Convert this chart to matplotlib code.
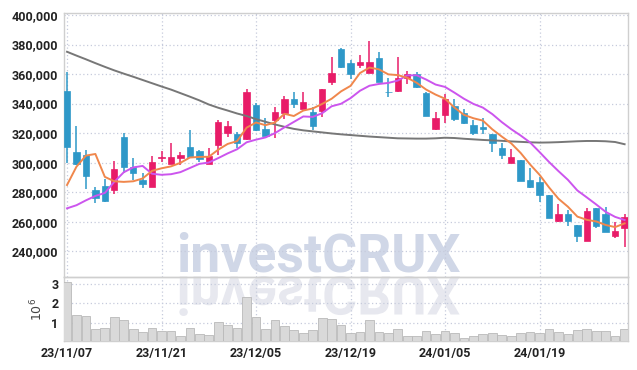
import matplotlib
matplotlib.use('Agg')
import matplotlib.pyplot as plt
import numpy as np
from matplotlib.ticker import FuncFormatter
from matplotlib.textpath import TextPath
from matplotlib.patches import PathPatch
from matplotlib.font_manager import FontProperties
from matplotlib.transforms import Affine2D

# daily candles (KRW)
opens = [348800, 307200, 305000, 281500, 284200, 281300, 317400, 297100, 288300, 283800,
         303300, 299300, 303400, 310900, 307900, 299300, 312200, 320300, 319400, 316000,
         338800, 322800, 329100, 333900, 343100, 336600, 334100, 335200, 354900, 376800,
         367300, 366100, 361000, 370900, 348100, 348500, 357100, 359800, 347400, 322600,
         332100, 338400, 333900, 325500, 324400, 319400, 310000, 300000, 301800, 288300,
         286700, 278100, 260700, 265300, 257800, 247200, 269100, 265300, 250400, 256000]
highs = [361400, 324800, 308600, 283800, 288700, 301400, 319900, 303000, 292800, 304800,
         307700, 313100, 307500, 322100, 308500, 309700, 328900, 328000, 321000, 349700,
         340600, 330500, 337900, 345400, 347600, 347600, 337900, 350000, 371800, 377400,
         369500, 372700, 382400, 375000, 357100, 371300, 362100, 361600, 347600, 334100,
         346300, 342900, 336400, 328900, 330000, 319500, 313100, 309000, 302000, 296200,
         290500, 278300, 271800, 268000, 258000, 269100, 269300, 270200, 260000, 265000]
lows = [299600, 298500, 282000, 273000, 273500, 278800, 292800, 288300, 282600, 283500,
        300500, 299000, 298200, 303000, 300500, 299200, 305200, 317600, 309700, 315400,
        321700, 318300, 316500, 329400, 336800, 336100, 322100, 331200, 352600, 363900,
        356400, 363900, 360900, 354600, 344300, 348100, 353300, 350800, 331400, 322100,
        326700, 328200, 326200, 318800, 319400, 307500, 302300, 299800, 287600, 282600,
        273600, 262600, 259600, 257100, 246100, 247000, 255600, 253100, 249200, 243100]
closes = [310900, 299300, 291200, 276300, 274300, 295700, 297300, 293200, 285800, 300500,
          304100, 303800, 305300, 303800, 302500, 304800, 327600, 324800, 313600, 347900,
          322400, 318300, 334100, 343100, 340000, 341100, 325100, 349900, 360700, 364600,
          359800, 368400, 368400, 354600, 347700, 357100, 359800, 351200, 331600, 330500,
          343100, 329800, 327100, 320100, 322600, 313600, 305200, 303800, 287800, 283800,
          278400, 262800, 265300, 260700, 250600, 267100, 257100, 253300, 253700, 263200]

# moving averages as drawn
ma5 = [284900, 297300, 304800, 305900, 290400, 287400, 287000, 287400, 289300, 294500,
       296200, 297500, 299900, 303500, 303900, 304000, 308800, 312700, 314600, 323700,
       327200, 325400, 327200, 333100, 331600, 335300, 336700, 339800, 343300, 348300,
       352000, 360700, 364400, 363200, 359800, 359300, 357500, 354100, 349500, 346100,
       343300, 337300, 332400, 330100, 328500, 322600, 317700, 313100, 306600, 298800,
       291800, 283300, 275600, 270200, 263500, 261300, 260200, 257800, 256400, 258900]
ma10 = [269100, 271200, 274500, 277500, 279500, 287000, 293500, 296800, 297800, 292500,
        291800, 292200, 293600, 296400, 299200, 300100, 303100, 306300, 309100, 313800,
        315600, 317100, 320000, 323900, 327600, 331300, 331000, 333500, 338200, 339900,
        343700, 348700, 352100, 353300, 354000, 355600, 359100, 359200, 356300, 352900,
        351300, 347400, 343300, 339800, 337300, 332900, 327500, 322700, 318400, 313700,
        307200, 300500, 294300, 288400, 281200, 276500, 271700, 266700, 263300, 261200]
ma60 = [375100, 372500, 370000, 367400, 364900, 362500, 360300, 358200, 356000, 353800,
        351600, 349500, 347100, 344700, 342200, 339400, 337200, 335300, 333300, 331600,
        329500, 327700, 325900, 324300, 322900, 321900, 321200, 320500, 319800, 319200,
        318700, 318200, 317700, 317300, 316900, 316500, 316400, 316300, 316300, 316500,
        316900, 316700, 316200, 315800, 315400, 315100, 314800, 314400, 314100, 313800,
        313600, 313700, 313900, 314200, 314500, 314700, 314700, 314500, 314000, 312500]

# volume in millions of shares
volume = [3.08, 1.40, 1.35, 0.69, 0.74, 1.30, 1.15, 0.69, 0.54, 0.74,
          0.59, 0.59, 0.34, 0.74, 0.44, 0.39, 1.05, 0.90, 0.74, 2.32,
          1.30, 0.69, 1.15, 0.85, 0.64, 0.49, 0.64, 1.25, 1.20, 0.90,
          0.49, 0.54, 1.15, 0.54, 0.49, 0.69, 0.34, 0.34, 0.59, 0.44,
          0.59, 0.49, 0.24, 0.34, 0.44, 0.49, 0.39, 0.34, 0.49, 0.54,
          0.49, 0.69, 0.54, 0.44, 0.64, 0.69, 0.59, 0.59, 0.34, 0.69]

tick_labels = ['23/11/07', '23/11/21', '23/12/05', '23/12/19', '24/01/05', '24/01/19']

RED = '#e81c68'
BLUE = '#2e98c8'
GRID = '#c6cbdc'
SPINE = '#cfcfcf'
TXT = '#222222'
plt.rcParams['font.family'] = ['Roboto', 'DejaVu Sans']

o = np.array(opens)
h = np.array(highs)
l = np.array(lows)
c = np.array(closes)
x = np.arange(len(c))
cols = np.where(c >= o, RED, BLUE)

fig = plt.figure(figsize=(6.37, 3.70), dpi=100)
ax = fig.add_axes([64/637, 1-277/370, 564/637, 264/370])
axv = fig.add_axes([64/637, 1-341/370, 564/637, 64/370], sharex=ax)
for a in (ax, axv):
    a.set_facecolor('none')
    for s in a.spines.values():
        s.set_color(SPINE)
        s.set_linewidth(1)
    a.grid(True, linestyle=(0, (1, 2)), color=GRID, linewidth=0.9)
    a.set_axisbelow(True)
    a.tick_params(length=0, labelsize=9, colors=TXT, pad=4)

# watermark + reflection
fig.text(176.5/637, 1-272/370, 'investCRUX', fontsize=38.5, fontweight='bold',
         family='Roboto', color='#d0d7e7', ha='left', va='baseline', zorder=-1)
fp = FontProperties(family='Roboto', weight='bold')
tp = TextPath((0, 0), 'investCRUX', size=38.5, prop=fp)
tr = Affine2D().scale(1/72, -1/72).translate(1.765, 0.935) + fig.dpi_scale_trans
fig.add_artist(PathPatch(tp, facecolor='#e7e8ef', edgecolor='none', transform=tr, zorder=-1))

# candles
ax.vlines(x, l, h, colors=cols, linewidth=1.1, zorder=3)
body = np.maximum(np.abs(c - o), 400)
ax.bar(x, body, bottom=np.minimum(o, c), width=0.68, color=cols, edgecolor=cols,
       linewidth=0.5, zorder=4)

ax.plot(x, ma60, color='#777777', linewidth=1.4, zorder=5)
ax.plot(x, ma10, color='#cc55ee', linewidth=1.4, zorder=5)
ax.plot(x, ma5, color='#f0874c', linewidth=1.4, zorder=5)

ax.set_xlim(-0.32, 59.36)
ax.set_ylim(222600, 401350)
ax.set_yticks(np.arange(240000, 400001, 20000))
ax.yaxis.set_major_formatter(FuncFormatter(lambda v, p: f'{v:,.0f}'))
ax.tick_params(labelbottom=False)

# volume
axv.bar(x, volume, width=0.92, color='#d9d9d9', edgecolor='#b9b9b9', linewidth=0.6, zorder=3)
axv.set_ylim(0.1, 3.34)
axv.set_yticks([1, 2, 3])
axv.set_ylabel(r'$10^{6}$', fontsize=9, color='#444444', labelpad=4)
axv.set_xticks(range(0, 60, 10))
axv.set_xticklabels(tick_labels)

for t in ax.get_yticklabels() + axv.get_yticklabels() + axv.get_xticklabels():
    t.set_fontweight('bold')

fig.savefig('out.png', dpi=100)
